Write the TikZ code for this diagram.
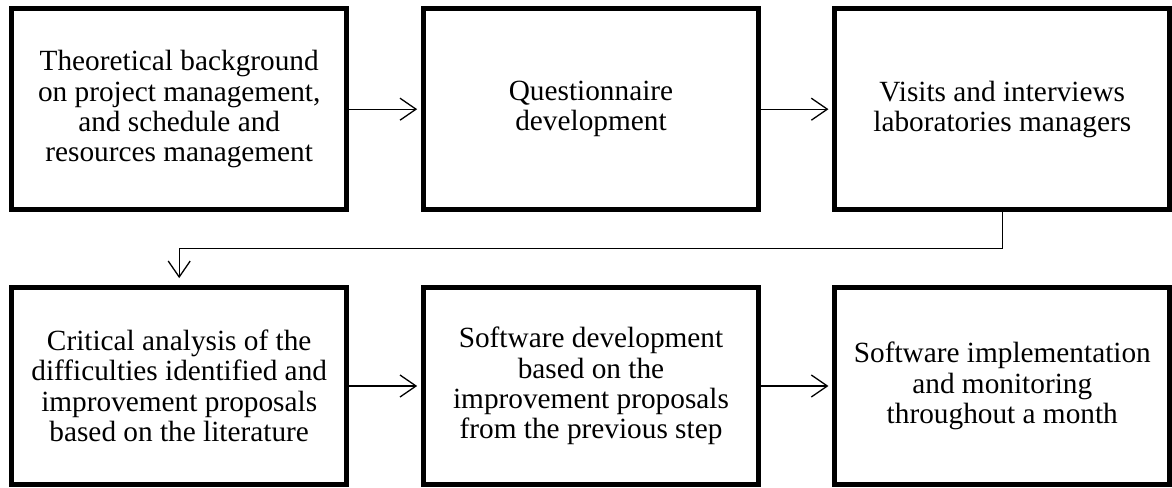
\documentclass[tikz,border=0pt]{standalone}
\usepackage{fontspec}
\setmainfont{Liberation Serif}
\usetikzlibrary{arrows.meta}

\tikzset{
  stepbox/.style={draw=black, line width=4.7pt, minimum width=335pt,
    align=center, inner sep=0pt,
    font=\fontsize{29.3pt}{30.4pt}\selectfont},
  toprow/.style={stepbox, minimum height=200.7pt},
  botrow/.style={stepbox, minimum height=197pt},
  flow/.style={draw=black, line width=1.3pt,
    -{Straight Barb[length=16pt, width=22pt]}},
}

\begin{document}
\begin{tikzpicture}[x=1pt, y=-1pt]
  \useasboundingbox (0,0) rectangle (1172,487);

  % first row of steps
  \node[toprow] (b1) at (179.2,109.2)
    {Theoretical background\\on project management,\\and schedule and\\resources management};
  \node[toprow] (b2) at (591,109.2) {Questionnaire\\development};
  \node[toprow] (b3) at (1002.3,109.2) {Visits and interviews\\laboratories managers};

  % second row of steps
  \node[botrow] (b4) at (179.2,386)
    {Critical analysis of the\\difficulties identified and\\improvement proposals\\based on the literature};
  \node[botrow] (b5) at (591,386)
    {Software development\\based on the\\improvement proposals\\from the previous step};
  \node[botrow] (b6) at (1002.3,386)
    {Software implementation\\and monitoring\\throughout a month};

  % connectors
  \draw[flow, shorten >=4pt] (b1.east) -- (b2.west);
  \draw[flow, shorten >=4pt] (b2.east) -- (b3.west);
  \draw[flow, shorten >=7pt] (b3.south) -- ++(0,36.5) -| (b4.north);
  \draw[flow, shorten >=4pt] (b4.east) -- (b5.west);
  \draw[flow, shorten >=4pt] (b5.east) -- (b6.west);
\end{tikzpicture}
\end{document}
